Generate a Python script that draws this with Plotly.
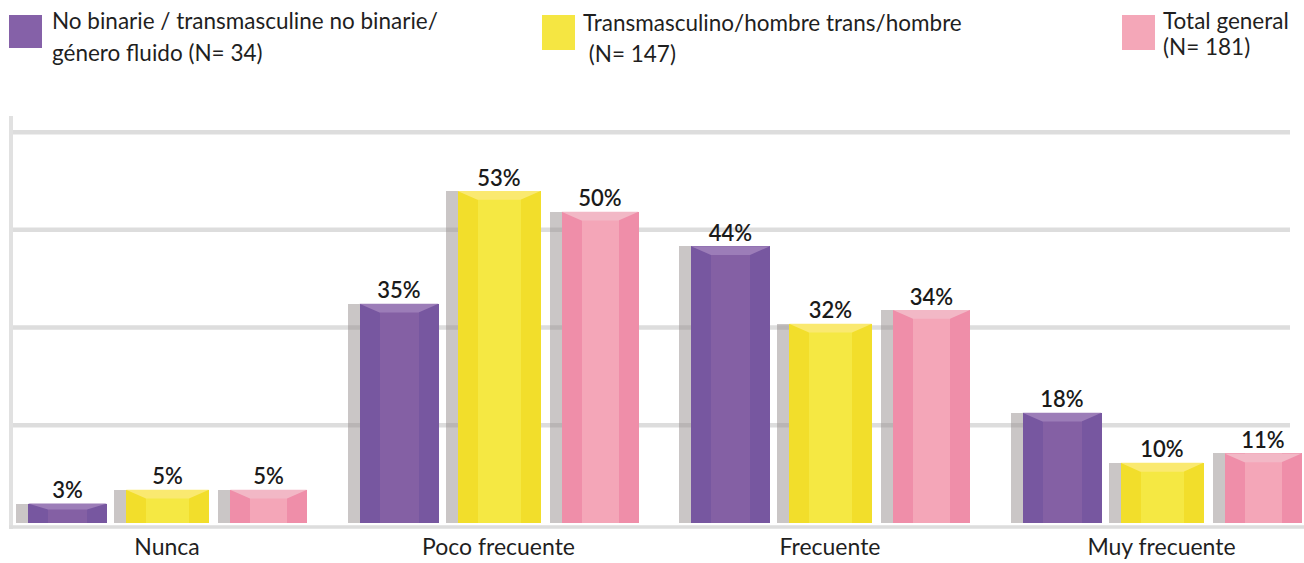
import plotly.graph_objects as go

# ---------------- data ----------------
categories = ["Nunca", "Poco frecuente", "Frecuente", "Muy frecuente"]
series_names = [
    "No binarie / transmasculine no binarie/ género fluido (N= 34)",
    "Transmasculino/hombre trans/hombre (N= 147)",
    "Total general (N= 181)",
]
legend_lines = [
    ["No binarie / transmasculine no binarie/", "género fluido (N= 34)"],
    ["Transmasculino/hombre trans/hombre", " (N= 147)"],
    ["Total general", "(N= 181)"],
]
vals_nobinarie = [3.1, 35.0, 44.2, 17.6]
vals_transmasc = [5.3, 53.0, 31.8, 9.6]
vals_total = [5.3, 49.7, 34.0, 11.1]
grid_values = [15.6, 31.2, 46.8, 62.4]

# ---------------- styling / geometry ----------------
W, H = 1304, 563
PLOT_TOP, PLOT_BOT = 116, 523
PX_PER_CAT = 331.5
C0 = 167.0                      # pixel of first category centre
PX_PER_UNIT = 6.264             # pixels per percentage point
FONT = "Lato"

series = [
    dict(vals=vals_nobinarie, side="#7757a0", center="#8460a4", bevel="#9c7db8",
         swatch="#8561a8", off=-99.5, w=79),
    dict(vals=vals_transmasc, side="#f2de2b", center="#f5e843", bevel="#fae970",
         swatch="#f5e642", off=0.5, w=83),
    dict(vals=vals_total, side="#ef8ea9", center="#f4a6b8", bevel="#f2b8c6",
         swatch="#f4a7b8", off=101.5, w=77),
]
SHADOW_W = 12
SIDE_W = 20
SHADOW = "rgba(150,142,142,0.5)"

def ux(px):
    return px / PX_PER_CAT

fig = go.Figure()
xs = list(range(len(categories)))

for s in series:
    vals = s["vals"]
    bx = [i + ux(s["off"]) for i in xs]
    # shadow
    fig.add_trace(go.Bar(
        x=[b - ux(s["w"] / 2 + SHADOW_W / 2) for b in bx], y=vals,
        width=ux(SHADOW_W), marker=dict(color=SHADOW, line=dict(width=0)),
        showlegend=False, hoverinfo="skip"))
    # body (sides)
    fig.add_trace(go.Bar(
        x=bx, y=vals, width=ux(s["w"]),
        marker=dict(color=s["side"], line=dict(width=0)),
        showlegend=False, hoverinfo="skip"))
    # centre band
    fig.add_trace(go.Bar(
        x=bx, y=vals, width=ux(s["w"] - 2 * SIDE_W),
        marker=dict(color=s["center"], line=dict(width=0)),
        showlegend=False, hoverinfo="skip"))
    # bevel trapezoids
    px_, py_ = [], []
    for b, v in zip(bx, vals):
        bev = min(1.4, 0.3 * v)
        hw = ux(s["w"] / 2)
        iw = ux(s["w"] / 2 - SIDE_W)
        px_ += [b - hw, b + hw, b + iw, b - iw, b - hw, None]
        py_ += [v, v, v - bev, v - bev, v, None]
    fig.add_trace(go.Scatter(
        x=px_, y=py_, mode="lines", fill="toself", fillcolor=s["bevel"],
        line=dict(width=0, color=s["bevel"]), showlegend=False, hoverinfo="skip"))
    # value labels
    fig.add_trace(go.Scatter(
        x=bx, y=vals, mode="text", text=[f"{round(v)}%" for v in vals],
        textposition="top center",
        textfont=dict(family=FONT, size=22, color="#1a1a1a", weight=600),
        showlegend=False, hoverinfo="skip", cliponaxis=False))

plot_h = PLOT_BOT - PLOT_TOP

def py(p):
    return (PLOT_BOT - p) / plot_h

shapes = []
for g in grid_values:
    shapes.append(dict(type="line", xref="paper", yref="y", x0=13 / W, x1=1290 / W,
                       y0=g, y1=g, line=dict(color="#dddddd", width=4.5), layer="below"))
shapes.append(dict(type="line", xref="paper", yref="paper", x0=11 / W, x1=11 / W,
                   y0=py(529), y1=py(116), line=dict(color="#e1e1e1", width=4), layer="below"))
shapes.append(dict(type="line", xref="paper", yref="paper", x0=9 / W, x1=1.0,
                   y0=py(527), y1=py(527), line=dict(color="#dddddd", width=3.5), layer="below"))

# custom legend
legend_geo = [
    dict(sx=(9, 42), sy=(15, 48), tx=50, ly=(21, 52.5)),
    dict(sx=(542, 575), sy=(15, 50), tx=581, ly=(22.5, 54)),
    dict(sx=(1122, 1155), sy=(15, 50), tx=1161, ly=(21, 46)),
]
annotations = []
for s, lg, lines in zip(series, legend_geo, legend_lines):
    shapes.append(dict(type="rect", xref="paper", yref="paper",
                       x0=lg["sx"][0] / W, x1=lg["sx"][1] / W,
                       y0=py(lg["sy"][1]), y1=py(lg["sy"][0]),
                       fillcolor=s["swatch"], line=dict(width=0)))
    for line, yy in zip(lines, lg["ly"]):
        annotations.append(dict(
            xref="paper", yref="paper", x=lg["tx"] / W, y=py(yy),
            xanchor="left", yanchor="middle", text=line, showarrow=False,
            font=dict(family=FONT, size=22.5, color="#1f1f1f")))

fig.update_layout(
    width=W, height=H,
    margin=dict(l=0, r=0, t=PLOT_TOP, b=H - PLOT_BOT),
    barmode="overlay", bargap=0,
    paper_bgcolor="white", plot_bgcolor="white",
    showlegend=False,
    shapes=shapes, annotations=annotations,
    xaxis=dict(range=[ux(-C0), ux(W - C0)], tickvals=xs, ticktext=categories,
               showgrid=False, zeroline=False, showline=False, ticks="",
               ticklabelstandoff=8,
               tickfont=dict(family=FONT, size=23, color="#1f1f1f")),
    yaxis=dict(range=[0, plot_h / PX_PER_UNIT], showgrid=False, zeroline=False,
               showticklabels=False, showline=False),
)

fig.write_html("out.html", config={"displayModeBar": False},
               post_script="document.body.style.margin='0';document.body.style.overflow='hidden';")
